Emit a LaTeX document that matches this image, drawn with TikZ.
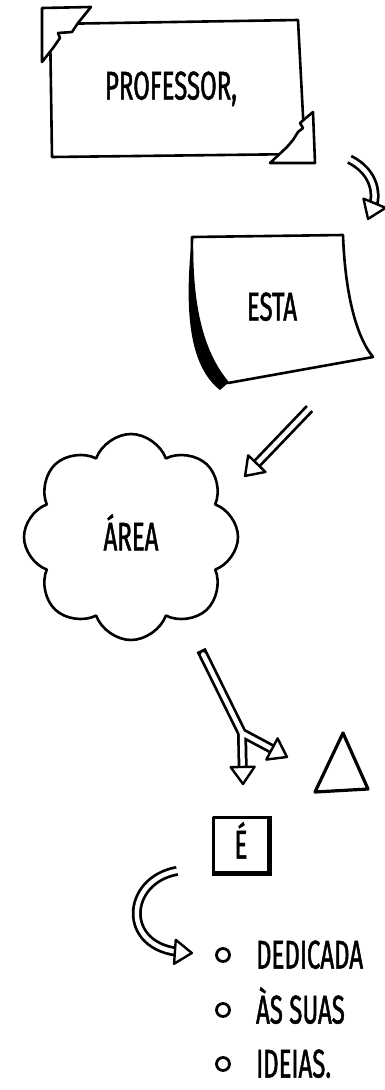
\documentclass[tikz,border=0pt]{standalone}
\usepackage{fontspec}
\setmainfont{Fira Sans}[FakeStretch=0.6,FakeBold=1.2]
\usetikzlibrary{arrows.meta,positioning,shapes.symbols,decorations.markings}

\begin{document}
\begin{tikzpicture}[
    x=1pt,y=-1pt,
    ink/.style={line width=2.6pt,line join=round,line cap=round},
    word/.style={font=\fontsize{40}{44}\selectfont,inner sep=0pt,
                 text height=27pt,text depth=0pt},
    shaftout/.style={draw=black,line width=10pt,line cap=butt,shorten >=10pt},
    shaftin/.style={draw=white,line width=4.5pt,line cap=round,
                    shorten >=10pt,shorten <=5pt},
    tiphead/.style={postaction={decorate,decoration={markings,
        mark=at position 0.999 with {\draw[black,fill=white,line width=2.4pt,
          line join=round] (0pt,0pt) -- (-17pt,12pt) -- (-17pt,-12pt) -- cycle;}}}},
    hollow/.style={shaftin,preaction={shaftout},tiphead},
    bullet/.style={draw,circle,line width=2.8pt,minimum size=13pt,inner sep=0pt}
]
\useasboundingbox (0,0) rectangle (385,1090);

\draw[ink] (50,24) -- (298,20) -- (305,154) -- (52,157) -- cycle;
\draw[ink,fill=white] (42,8) -- (91,7) -- (78,23) -- (72,32) -- (58,33)
    -- (60,38) -- (53,48) -- (42,62) -- cycle;
\draw[ink,fill=white] (313,112) -- (315,163) -- (270,163) -- (287,147)
    -- (293,140) -- (298,132) -- (303,128) -- (300,123) -- cycle;
\node[word] (prof) at (171,86) {PROFESSOR,};

\fill (192,237) .. controls (184,310) and (189,366) .. (220,390)
    -- (228,383) .. controls (200,350) and (191,300) .. (192,237) -- cycle;
\draw[ink] (192,237) -- (343,235) .. controls (345,290) and (355,335) .. (373,357)
    -- (228,383) .. controls (200,350) and (191,300) .. (192,237) -- cycle;
\node[word] (esta) at (272,307) {ESTA};

\node[cloud,draw,ink,cloud puffs=8,cloud puff arc=140,cloud ignores aspect,
      minimum width=214pt,minimum height=206pt,word] (area) at (131,537) {ÁREA};

\draw[line width=3.2pt,line join=round] (343,733) -- (315,792) -- (368,789) -- cycle;

\node[draw,ink,minimum width=55pt,minimum height=55pt,word] (e) at (241,845) {É};
\draw[line width=3.6pt] (e.north east) -- (e.south east) -- (e.south west);

\node[bullet] (b1) at (223,955) {};
\node[bullet] (b2) at (223,1010) {};
\node[bullet] (b3) at (223,1064) {};
\node[word,anchor=west,right=25pt of b1] (l1) {DEDICADA};
\node[word,anchor=west,right=25pt of b2] (l2) {ÀS SUAS};
\node[word,anchor=west,right=25pt of b3] (l3) {IDEIAS.};

\coordinate (s1) at (345,157);
\coordinate (t1) at (368,219);
\coordinate (s2) at (313,405);
\coordinate (t2) at (245,476);
\coordinate (s3) at (201,650);
\coordinate (fork) at (242,733);
\coordinate (t3) at (243,784);
\coordinate (t4) at (287,757);
\coordinate (s5) at (182,870);
\coordinate (t5) at (192,953);

\draw[hollow] (s1) .. controls (375,172) and (378,195) .. (t1);
\draw[hollow] (s2) -- (t2);
\draw[shaftout,shorten >=0pt] (s3) -- (fork);
\draw[shaftout] (fork) -- (t3);
\draw[shaftout] (fork) -- (t4);
\draw[shaftin,shorten >=0pt] (s3) -- (fork);
\draw[shaftin,shorten <=0pt,tiphead] (fork) -- (t3);
\draw[shaftin,shorten <=0pt,tiphead] (fork) -- (t4);
\draw[hollow] (s5) .. controls (125,880) and (120,948) .. (t5);
\end{tikzpicture}
\end{document}
